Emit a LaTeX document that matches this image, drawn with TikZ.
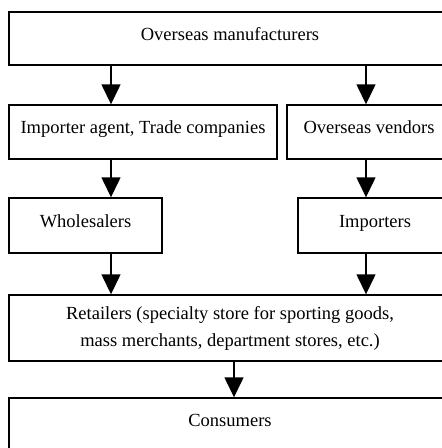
\documentclass[tikz,border=0pt]{standalone}
\usepackage{fontspec}
\setmainfont{Liberation Serif}
\usetikzlibrary{arrows.meta,positioning}

\begin{document}
\begin{tikzpicture}[x=1pt,y=-1pt,line width=1.4pt,
  every node/.style={font=\fontsize{18.5}{27}\selectfont},
  box/.style={draw,rectangle,inner sep=0pt,text height=13pt,text depth=9.5pt},
  arr/.style={-{Triangle[width=19pt,length=20pt]}}]
\useasboundingbox (0,0) rectangle (442,448);
\node[box,minimum width=442pt,minimum height=53pt](man) at (230,38.5){Overseas manufacturers};
\node[box,minimum width=268pt,minimum height=54pt](agt) at (143,132){Importer agent, Trade companies};
\node[box,minimum width=164pt,minimum height=54pt](ven) at (369,132){Overseas vendors};
\node[box,minimum width=153pt,minimum height=55pt](who) at (85.5,225.5){Wholesalers};
\node[box,minimum width=154pt,minimum height=55pt](imp) at (375,225.5){Importers};
\node[draw,rectangle,inner sep=0pt,align=center,minimum width=442pt,minimum height=66pt](ret) at (230,328){Retailers (specialty store for sporting goods,\\mass merchants, department stores, etc.)};
\node[box,minimum width=442pt,minimum height=53pt](con) at (230,424.5){Consumers};
% arrow columns
\coordinate (lx) at (111,0);\coordinate (rx) at (366,0);\coordinate (mx) at (234,0);
\draw[arr] (man.south -| lx) -- (agt.north -| lx);\draw[arr] (man.south -| rx) -- (ven.north -| rx);
\draw[arr] (agt.south -| lx) -- (who.north -| lx);\draw[arr] (ven.south -| rx) -- (imp.north -| rx);
\draw[arr] (who.south -| lx) -- (ret.north -| lx);\draw[arr] (imp.south -| rx) -- (ret.north -| rx);
\draw[arr] (ret.south -| mx) -- (con.north -| mx);
\end{tikzpicture}
\end{document}
